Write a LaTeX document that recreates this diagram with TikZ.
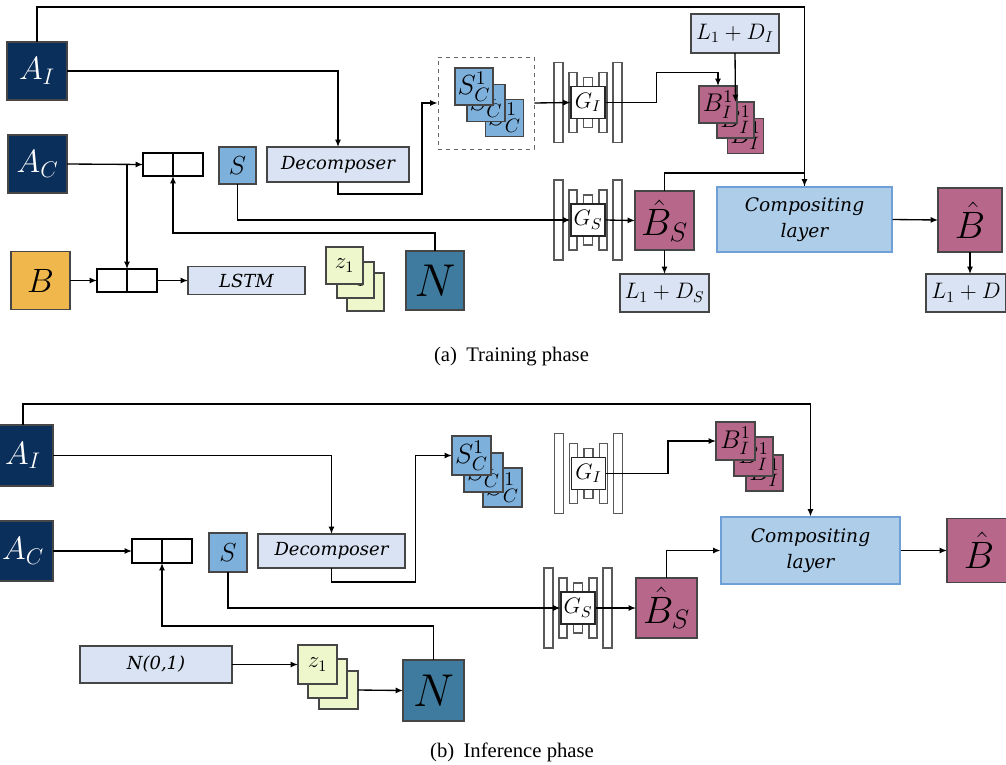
\RequirePackage{fix-cm}
\documentclass[tikz,border=0pt]{standalone}
\usepackage{graphicx}
\usepackage{fontspec}
\setmainfont{Liberation Serif}
\newfontfamily\boxfont{DejaVu Serif}
\usetikzlibrary{arrows.meta,calc}
\newcommand\sclabel[2]{\scalebox{#1}{#2}}
\definecolor{navy}{RGB}{11,47,91}
\definecolor{borange}{RGB}{240,183,76}
\definecolor{sblue}{RGB}{126,176,220}
\definecolor{lightbox}{RGB}{218,227,243}
\definecolor{zgreen}{RGB}{238,247,204}
\definecolor{nteal}{RGB}{62,123,158}
\definecolor{mauve}{RGB}{182,103,138}
\definecolor{compfill}{RGB}{174,205,233}
\definecolor{compdraw}{RGB}{110,160,215}
\definecolor{bordergray}{RGB}{70,70,70}
\tikzset{
  sz/.style 2 args={minimum width=#1*0.75pt,minimum height=#2*0.75pt},
  fs/.style={font=\fontsize{#1}{#1}\selectfont},
  base/.style={draw=bordergray,line width=0.8pt,inner sep=0pt,outer sep=0pt,rectangle},
  navybox/.style={base,fill=navy,text=white,fs=23},
  orangebox/.style={base,fill=borange,fs=22},
  sbox/.style={base,fill=sblue,fs=17},
  lbox/.style={base,fill=lightbox},
  italbox/.style={lbox,font=\fontsize{13.5}{19}\selectfont\boxfont\itshape,align=center},
  zbox/.style={base,fill=zgreen,fs=15},
  tealbox/.style={base,fill=nteal,fs=30},
  mbox/.style={base,fill=mauve,fs=16},
  bigm/.style={base,fill=mauve,fs=26},
  compbox/.style={draw=compdraw,line width=0.8pt,fill=compfill,inner sep=0pt,font=\fontsize{14}{19.5}\selectfont\boxfont\itshape,align=center},
  catbox/.style={draw=black,line width=1.1pt,fill=white,inner sep=0pt,outer sep=0pt},
  genbox/.style={draw=black!85,line width=0.8pt,fill=white,inner sep=0pt,minimum width=34*0.75pt,minimum height=32*0.75pt,fs=14},
  bar/.style={draw=black!65,line width=0.8pt,fill=white},
  arr/.style={line width=1pt,-{Latex[length=5.5pt,width=4.5pt]}},
  plain/.style={line width=1pt},
  lossfont/.style={fs=15},
  captext/.style={fs=15.5},
  genbars/.pic={
    \draw[bar] (-34,-40) rectangle (-25,40);
    \draw[bar] (25,-40) rectangle (34,40);
    \draw[bar] (-19,-30) rectangle (-11,30);
    \draw[bar] (11,-30) rectangle (19,30);
    \draw[bar] (-4.5,-25) rectangle (4.5,25);
  }
}
\begin{document}
\begin{tikzpicture}[x=0.75pt,y=-0.75pt]
\useasboundingbox (0,0) rectangle (1006,764);
% ================= (a) Training phase =================
\node[navybox,sz={60}{58}] (ai) at (37,71) {\sclabel{1.05}{$A_I$}};
\node[navybox,sz={59}{58}] (ac) at (37.5,164) {\sclabel{1.05}{$A_C$}};
\node[orangebox,sz={59}{58}] (b) at (40.5,280.5) {\sclabel{1.15}{$B$}};
\node[catbox,sz={30}{23}] (cat1a) at (158,164.5) {};
\node[catbox,sz={30}{23}] (cat1b) at (188,164.5) {};
\node[catbox,sz={30}{23}] (cat2a) at (112,280.5) {};
\node[catbox,sz={30}{23}] (cat2b) at (142,280.5) {};
\node[italbox,sz={117}{28}] (lstm) at (246.5,280.5) {LSTM};
\node[sbox,sz={37}{37}] (s) at (237.5,165.5) {\sclabel{1.15}{$S$}};
\node[italbox,sz={142}{35}] (dec) at (338,164.5) {Decomposer};
\node[zbox,sz={37}{38}] (z3) at (365.5,292) {\sclabel{1.15}{$z_1$}};
\node[zbox,sz={37}{36}] (z2) at (355.5,280) {\sclabel{1.15}{$z_1$}};
\node[zbox,sz={37}{37}] (z1) at (344.5,265.5) {\sclabel{1.15}{$z_1$}};
\node[tealbox,sz={58}{59}] (n) at (435,280.5) {\sclabel{1.15}{$N$}};
\node[draw=black!60,dashed,line width=0.7pt,sz={96}{92},inner sep=0pt] (dash) at (486,103) {};
\node[sbox,sz={38}{37}] (sc3) at (504.5,118) {\sclabel{1.22}{$S_C^1$}};
\node[sbox,sz={38}{37}] (sc2) at (486,103) {\sclabel{1.22}{$S_C^1$}};
\node[sbox,sz={38}{37}] (sc1) at (474,86.5) {\sclabel{1.22}{$S_C^1$}};
\pic at (588,102.5) {genbars};
\node[genbox] (gi) at (588,102.5) {\sclabel{1.2}{$G_I$}};
\pic at (588,220) {genbars};
\node[genbox] (gs) at (588,220) {\sclabel{1.2}{$G_S$}};
\node[mbox,sz={36}{35}] (bi3) at (745.5,136) {\sclabel{1.2}{$B_I^1$}};
\node[mbox,sz={37}{36}] (bi2) at (735.5,120) {\sclabel{1.2}{$B_I^1$}};
\node[mbox,sz={38}{37}] (bi1) at (718,104.5) {\sclabel{1.2}{$B_I^1$}};
\node[lbox,sz={88}{39},lossfont] (lossi) at (735,33.5) {\sclabel{1.12}{$L_1+D_I$}};
\node[bigm,sz={59}{59}] (bs) at (664.5,220.5) {\sclabel{1.1}{$\hat{B}_S$}};
\node[lbox,sz={89}{38},lossfont] (losss) at (664.5,293) {\sclabel{1.12}{$L_1+D_S$}};
\node[compbox,sz={175}{65}] (comp) at (804.5,219.5) {Compositing\\layer};
\node[bigm,sz={64}{64}] (bhat) at (970,220) {\sclabel{1.1}{$\hat{B}$}};
\node[lbox,sz={80}{38},lossfont] (lossb) at (966,293) {\sclabel{1.12}{$L_1+D$}};
\node[captext] (capa) at (511.5,357) {(a)\hspace{0.45em}Training phase};
% connectors (a)
\draw[arr] (ai.north) -- ++(0,-35) -| (comp.north);
\draw[plain] (bs.north) -- ++(0,-18) -| (comp.north);
\draw[arr] (ai.east) -| (dec.north);
\draw[arr] (ac.east) -- (cat1a.west);
\draw[arr] (cat2a.north east |- ac.east) -- (cat2a.north east);
\draw[arr] (b.east) -- (cat2a.west);
\draw[arr] (cat2b.east) -- (lstm.west);
\draw[arr] (n.north) -- ++(0,-18) -| (cat1a.south east);
\draw[arr] (s.south) |- (gs.west);
\draw[arr] (dec.south) -- ++(0,12) -- ++(84,0) |- (dash.west);
\draw[arr] (dash.east) -- (gi.west);
\draw[arr] (gi.east) -- ++(51,0) -- ++(0,-30) -| (bi1.north);
\draw[arr] (lossi.south) -- (bi2.north);
\draw[arr] (gs.east) -- (bs.west);
\draw[arr] (bs.south) -- (losss.north);
\draw[arr] (comp.east) -- (bhat.west);
\draw[arr] (bhat.south) -- (bhat.south |- lossb.north);
% ================= (b) Inference phase =================
\node[navybox,sz={60}{61}] (aix) at (23,455.5) {\sclabel{1.05}{$A_I$}};
\node[navybox,sz={60}{60}] (acx) at (23,551) {\sclabel{1.05}{$A_C$}};
\node[catbox,sz={30}{24}] (cat1ax) at (147,551) {};
\node[catbox,sz={30}{24}] (cat1bx) at (177,551) {};
\node[sbox,sz={38}{39}] (sx) at (228,552.5) {\sclabel{1.15}{$S$}};
\node[italbox,sz={147}{34}] (decx) at (331.5,551) {Decomposer};
\node[italbox,sz={152}{37}] (n01) at (156,664.5) {N(0,1)};
\node[zbox,sz={39}{38}] (z3x) at (338.5,690) {\sclabel{1.15}{$z_1$}};
\node[zbox,sz={39}{39}] (z2x) at (327.5,678.5) {\sclabel{1.15}{$z_1$}};
\node[zbox,sz={39}{39}] (z1x) at (317.5,664.5) {\sclabel{1.15}{$z_1$}};
\node[tealbox,sz={61}{61}] (nx) at (433.5,690.5) {\sclabel{1.15}{$N$}};
\node[sbox,sz={39}{39}] (sc3x) at (502.5,487.5) {\sclabel{1.22}{$S_C^1$}};
\node[sbox,sz={39}{39}] (sc2x) at (483.5,472.5) {\sclabel{1.22}{$S_C^1$}};
\node[sbox,sz={39}{39}] (sc1x) at (471.5,455.5) {\sclabel{1.22}{$S_C^1$}};
\pic at (588.5,473.5) {genbars};
\node[genbox] (gix) at (588.5,473.5) {\sclabel{1.2}{$G_I$}};
\pic at (578,608) {genbars};
\node[genbox] (gsx) at (578,608) {\sclabel{1.2}{$G_S$}};
\node[mbox,sz={37}{36}] (bi3x) at (764.5,473) {\sclabel{1.2}{$B_I^1$}};
\node[mbox,sz={39}{39}] (bi2x) at (753.5,456.5) {\sclabel{1.2}{$B_I^1$}};
\node[mbox,sz={39}{38}] (bi1x) at (735.5,441) {\sclabel{1.2}{$B_I^1$}};
\node[bigm,sz={61}{60}] (bsx) at (666.5,608) {\sclabel{1.1}{$\hat{B}_S$}};
\node[compbox,sz={179}{67}] (compx) at (810.5,550.5) {Compositing\\layer};
\node[bigm,sz={64}{64}] (bhatx) at (979,550.5) {\sclabel{1.1}{$\hat{B}$}};
\node[captext] (capb) at (512,752) {(b)\hspace{0.45em}Inference phase};
% connectors (b)
\draw[arr] (aix.north) -- ++(0,-21) -| (compx.north);
\draw[arr] (aix.east) -| (decx.north);
\draw[arr] (acx.east) -- (cat1ax.west);
\draw[arr] (nx.north) -- ++(0,-34) -| (cat1ax.south east);
\draw[arr] (sx.south) |- (gsx.west);
\draw[arr] (decx.south) -- ++(0,14) -- ++(84,0) |- (sc1x.west);
\draw[arr] (gix.east) -- ++(62,0) |- (bi1x.west);
\draw[arr] (gsx.east) -- (bsx.west);
\draw[arr] (bsx.north) |- (compx.west);
\draw[arr] (compx.east) -- (bhatx.west);
\draw[arr] (n01.east) -- (z1x.west);
\draw[arr] (z3x.east) -- (nx.west);
\end{tikzpicture}
\end{document}
